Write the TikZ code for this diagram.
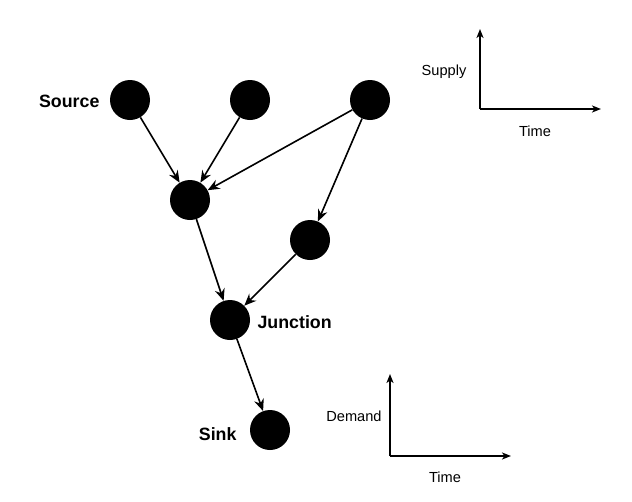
\documentclass[tikz,border=0pt]{standalone}
\usepackage{fontspec}
\setmainfont{Liberation Sans}
\usetikzlibrary{arrows.meta}

\tikzset{
  dot/.style={circle, fill=black, minimum size=40pt, inner sep=0pt},
  flow/.style={-{Stealth[length=12pt,width=10pt,inset=4pt]}, line width=1.6pt},
  axis/.style={-{Stealth[length=9pt,width=7pt,inset=2.5pt]}, line width=1.6pt},
  lbl/.style={font=\fontsize{17.8}{20}\selectfont\bfseries},
  axlbl/.style={font=\fontsize{14.6}{17}\selectfont}
}

\begin{document}
\begin{tikzpicture}[x=1pt,y=-1pt]
    \useasboundingbox (0,0) rectangle (632,501);
    % network of sources, junctions and sink
    \node[dot] (src1) at (130,100) {};
    \node[dot] (src2) at (250,100) {};
    \node[dot] (src3) at (370,100) {};
    \node[dot] (mid1) at (190,200) {};
    \node[dot] (mid2) at (310,240) {};
    \node[dot] (junc) at (230,320) {};
    \node[dot] (sink) at (270,430) {};
    \node[lbl, anchor=east] (srclbl) at (103,101) {Source};
    \node[lbl, anchor=west] (junclbl) at (254,322) {Junction};
    \node[lbl, anchor=east] (sinklbl) at (240,434) {Sink};

    \draw[flow] (src1) -- (mid1);
    \draw[flow] (src2) -- (mid1);
    \draw[flow] (src3) -- (mid1);
    \draw[flow] (src3) -- (mid2);
    \draw[flow] (mid1) -- (junc);
    \draw[flow] (mid2) -- (junc);
    \draw[flow] (junc) -- (sink);

    % supply and demand axes
    \coordinate (sup0) at (480,109);
    \coordinate (supy) at (480,29);
    \coordinate (supx) at (601,109);
    \draw[axis] (sup0) -- (supy);
    \draw[axis] (sup0) -- (supx);
    \node[axlbl] (suplbl) at (444,72) {Supply};
    \node[axlbl] (suptime) at (535,131) {Time};

    \coordinate (dem0) at (390,456);
    \coordinate (demy) at (390,374);
    \coordinate (demx) at (511,456);
    \draw[axis] (dem0) -- (demy);
    \draw[axis] (dem0) -- (demx);
    \node[axlbl] (demlbl) at (354,416) {Demand};
    \node[axlbl] (demtime) at (445,477) {Time};
  \end{tikzpicture}
\end{document}
